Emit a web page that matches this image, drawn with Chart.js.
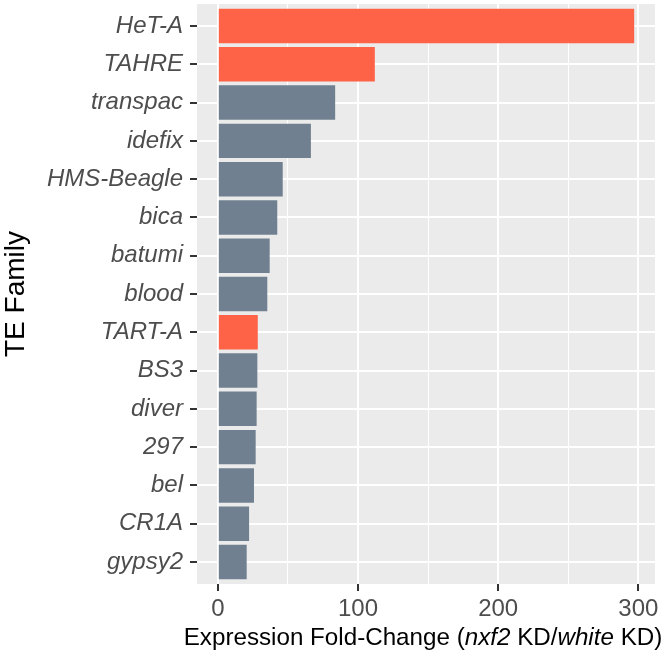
<!DOCTYPE html>
<html lang="en">
<head>
  <meta charset="UTF-8">
  <title>TE Family fold-change</title>
  <script src="https://cdn.jsdelivr.net/npm/chart.js"></script>
  <style>
    html, body {
      margin: 0;
      padding: 0;
      background: #ffffff;
    }

    .chart-container {
      width: 666px;
      height: 657px;
      position: relative;
    }
  </style>
</head>
<body>

  <div class="chart-container">
    <canvas id="teChart"></canvas>
  </div>

  <script>
    // data
    const families = ['HeT-A', 'TAHRE', 'transpac', 'idefix', 'HMS-Beagle', 'bica', 'batumi', 'blood',
                      'TART-A', 'BS3', 'diver', '297', 'bel', 'CR1A', 'gypsy2'];
    const foldChange = [297, 112, 83.7, 66.4, 46.3, 42.4, 37, 35.3, 28.5, 28.2, 27.7, 27, 25.8, 22.3, 20.6];
    const isTelomeric = [true, true, false, false, false, false, false, false, true, false, false, false, false, false, false];
    const xTicks = [0, 50, 100, 150, 200, 250, 300];
    const xLabelTicks = [0, 100, 200, 300];

    const FONT = '"Liberation Sans", Arial, Helvetica, sans-serif';

    const panelBg = {
      id: 'panelBg',
      beforeDraw(chart) {
        const { ctx, chartArea: a } = chart;
        ctx.save();
        ctx.fillStyle = '#ebebeb';
        ctx.fillRect(a.left, a.top, a.right - a.left, a.bottom - a.top);
        ctx.restore();
      }
    };

    // axis titles (x title mixes italic and upright parts)
    const axisTitles = {
      id: 'axisTitles',
      afterDraw(chart) {
        const { ctx, chartArea: a } = chart;
        ctx.save();
        ctx.fillStyle = '#000000';
        ctx.textBaseline = 'alphabetic';

        const parts = [
          ['Expression Fold-Change (', 'normal'],
          ['nxf2', 'italic'],
          [' KD/', 'normal'],
          ['white', 'italic'],
          [' KD)', 'normal']
        ];
        let total = 0;
        parts.forEach(p => {
          ctx.font = p[1] + ' 24.2px ' + FONT;
          total += ctx.measureText(p[0]).width;
        });
        let x = (a.left + a.right) / 2 - 3 - total / 2;
        ctx.textAlign = 'left';
        parts.forEach(p => {
          ctx.font = p[1] + ' 24.2px ' + FONT;
          ctx.fillText(p[0], x, 645);
          x += ctx.measureText(p[0]).width;
        });

        ctx.translate(24, (a.top + a.bottom) / 2);
        ctx.rotate(-Math.PI / 2);
        ctx.textAlign = 'center';
        ctx.font = 'normal 28px ' + FONT;
        ctx.fillText('TE Family', 0, 0);
        ctx.restore();
      }
    };

    const ctx = document.getElementById('teChart').getContext('2d');

    const teChart = new Chart(ctx, {
      type: 'bar',
      data: {
        datasets: [{
          data: foldChange.map((v, i) => ({ x: v, y: i })),
          backgroundColor: isTelomeric.map(t => t ? '#ff6347' : '#708090'),
          borderWidth: 0,
          barPercentage: 0.9,
          categoryPercentage: 1.0
        }]
      },
      options: {
        indexAxis: 'y',
        responsive: true,
        maintainAspectRatio: false,
        animation: false,
        layout: {
          padding: { top: 4, right: 11, left: 0, bottom: 0 }
        },
        plugins: {
          legend: { display: false },
          tooltip: { enabled: false }
        },
        scales: {
          x: {
            type: 'linear',
            min: -14.85,
            max: 311.85,
            afterBuildTicks(scale) {
              scale.ticks = xTicks.map(v => ({ value: v }));
            },
            afterFit(scale) {
              scale.height = 73;
            },
            border: { display: false },
            grid: {
              color: '#ffffff',
              lineWidth: c => (xLabelTicks.includes(c.tick.value) ? 2 : 1),
              tickColor: c => (xLabelTicks.includes(c.tick.value) ? '#333333' : 'rgba(0,0,0,0)'),
              tickWidth: 2,
              tickLength: 7
            },
            ticks: {
              autoSkip: false,
              maxRotation: 0,
              padding: 4,
              color: '#4d4d4d',
              font: { family: FONT, size: 24 },
              callback: v => (xLabelTicks.includes(v) ? String(v) : '')
            }
          },
          y: {
            type: 'linear',
            reverse: true,
            offset: false,
            min: -0.575,
            max: families.length - 1 + 0.575,
            afterBuildTicks(scale) {
              scale.ticks = families.map((f, i) => ({ value: i }));
            },
            afterFit(scale) {
              scale.width = 197;
              scale.paddingTop = 0;
              scale.paddingBottom = 0;
            },
            border: { display: false },
            grid: {
              offset: false,
              color: '#ffffff',
              lineWidth: 2,
              tickColor: '#333333',
              tickWidth: 2,
              tickLength: 7
            },
            ticks: {
              autoSkip: false,
              padding: 7,
              color: '#4d4d4d',
              font: { family: FONT, size: 24, style: 'italic' },
              callback: v => families[v]
            }
          }
        }
      },
      plugins: [panelBg, axisTitles]
    });
  </script>
</body>
</html>
